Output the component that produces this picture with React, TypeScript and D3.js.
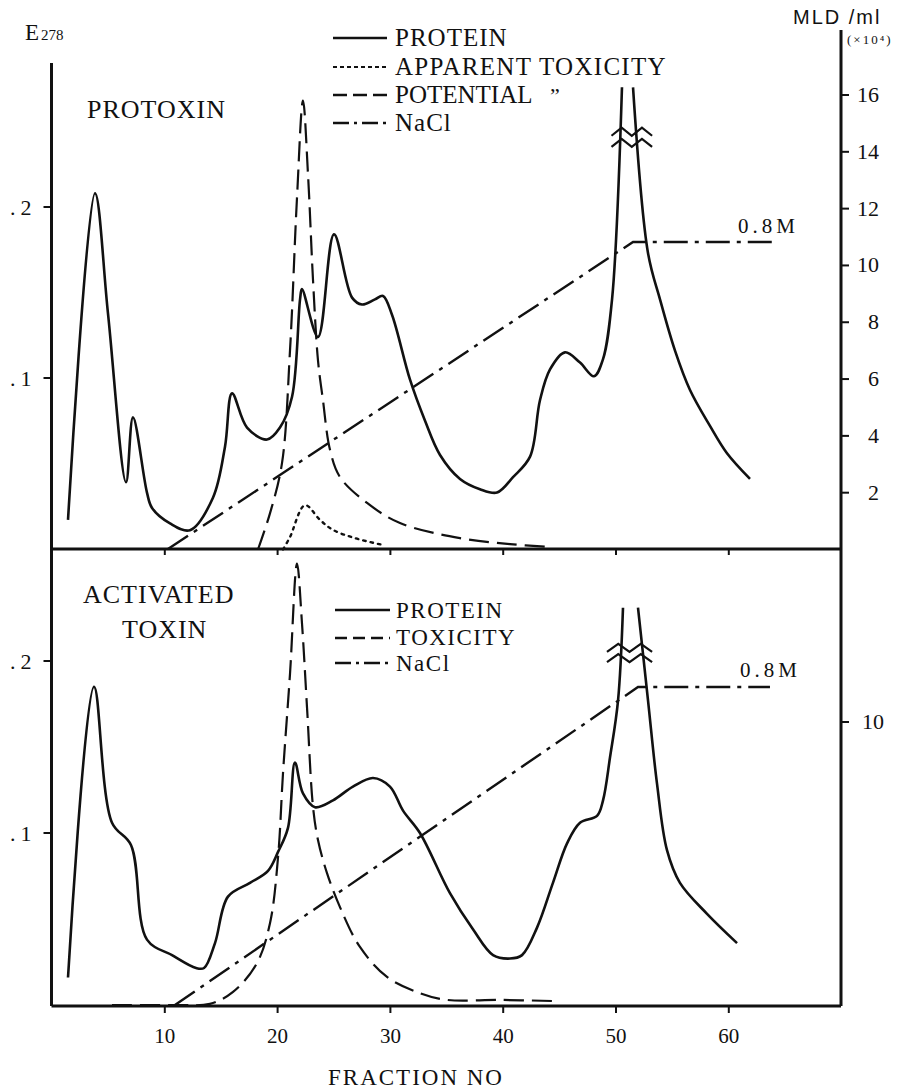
import React from 'react';
import * as d3 from 'd3';

const W = 917;
const H = 1091;

// ---------- tick values / labels ----------
const xTickValues = [10, 20, 30, 40, 50, 60];
const e278TickValues = [0.1, 0.2];
const e278TickLabels = ['.1', '.2'];
const mldTickValuesTop = [2, 4, 6, 8, 10, 12, 14, 16];
const mldTickValuesBottom = [10];

// ---------- PROTOXIN panel (fraction, value) ----------
const protoxinProtein: [number, number | null][] = [
  [1.42, 0.017], [3.81, 0.208], [4.96, 0.138], [6.56, 0.039], [7.18, 0.077],
  [8.42, 0.033], [8.87, 0.024], [10.46, 0.015], [12.23, 0.011], [14.27, 0.03],
  [15.34, 0.06], [15.96, 0.091], [17.29, 0.071], [19.06, 0.064], [20.21, 0.071],
  [21.28, 0.089], [21.99, 0.146], [22.16, 0.152], [23.58, 0.124], [25.0, 0.184],
  [26.6, 0.147], [27.48, 0.143], [28.63, 0.146], [29.34, 0.148], [30.14, 0.137],
  [31.74, 0.099], [33.07, 0.075], [34.4, 0.055], [36.17, 0.041], [37.94, 0.035],
  [39.45, 0.033], [40.87, 0.042], [42.38, 0.054], [43.26, 0.087], [44.15, 0.105],
  [45.48, 0.115], [46.81, 0.109], [48.05, 0.101], [48.85, 0.111], [49.65, 0.146],
  [50.53, 0.27], [51.0, null], [51.51, 0.27], [52.84, 0.173], [53.9, 0.146],
  [55.23, 0.116], [56.56, 0.093], [58.33, 0.072], [59.84, 0.056], [61.88, 0.041],
];
const protoxinApparentTox: [number, number][] = [
  [20.48, 0], [21.1, 0.44], [22.43, 1.56], [23.76, 1.04], [24.91, 0.69],
  [26.86, 0.4], [29.34, 0.16],
];
const protoxinPotentialTox: [number, number][] = [
  [18.26, 0], [19.33, 1.28], [20.39, 3.04], [21.1, 7.01], [21.72, 12.39],
  [22.25, 15.8], [22.7, 13.17], [23.14, 9.48], [23.58, 6.66], [24.02, 5.26],
  [24.65, 3.5], [25.53, 2.55], [27.93, 1.64], [30.85, 0.93], [36.17, 0.4],
  [40.6, 0.19], [44.15, 0.09],
];
const protoxinNaCl: [number, number][] = [[10.28, 0], [51.51, 0.8], [63.9, 0.8]];

// ---------- ACTIVATED TOXIN panel ----------
const activatedProtein: [number, number | null][] = [
  [1.42, 0.016], [3.72, 0.185], [5.32, 0.106], [7.0, 0.093], [8.42, 0.038],
  [10.64, 0.029], [12.77, 0.0215], [13.48, 0.0215], [14.45, 0.036], [15.6, 0.063],
  [17.55, 0.071], [19.15, 0.078], [20.04, 0.089], [20.92, 0.103], [21.54, 0.141],
  [22.25, 0.123], [23.32, 0.115], [24.91, 0.119], [26.68, 0.127], [28.46, 0.132],
  [29.96, 0.127], [31.12, 0.113], [32.62, 0.1], [35.28, 0.065], [37.32, 0.044],
  [39.1, 0.029], [40.6, 0.027], [41.67, 0.029], [43.0, 0.045], [44.41, 0.071],
  [45.66, 0.094], [46.81, 0.106], [48.32, 0.11], [48.85, 0.119], [49.47, 0.144],
  [50.18, 0.177], [50.62, 0.231], [51.3, null], [51.95, 0.231], [52.84, 0.177],
  [53.63, 0.129], [54.52, 0.09], [55.67, 0.071], [58.07, 0.053], [60.73, 0.036],
];
const activatedTox: [number, number][] = [
  [5.32, 0], [10.9, 0], [14.0, 0.04], [16.05, 0.46], [18.17, 1.48], [19.33, 2.9],
  [20.04, 5.23], [20.48, 8.2], [21.1, 11.7], [21.72, 15.6], [22.16, 13.5],
  [22.61, 10.5], [23.14, 7.0], [23.58, 5.83], [24.38, 4.66], [25.53, 3.46],
  [27.3, 2.05], [29.7, 0.99], [32.62, 0.42], [35.02, 0.18], [39.7, 0.18], [44.41, 0.14],
];
const activatedNaCl: [number, number][] = [[10.9, 0], [51.95, 0.8], [63.65, 0.8]];

// ---------- styles ----------
const SERIF = "'Liberation Serif', 'Times New Roman', serif";
const INK = '#111';
const DASH = '20,8';
const DOT = '2.5,5';
const DASHDOT = '24,7,4,7';

export default function App() {
  const x = d3.scaleLinear().domain([0, 70]).range([52, 841.6]);

  const yTop = d3.scaleLinear().domain([0, 0.2]).range([549, 207]);
  const mldTop = d3.scaleLinear().domain([0, 16]).range([549.5, 95]);
  const naclTop = d3.scaleLinear().domain([0, 0.8]).range([549, 242]);

  const yBot = d3.scaleLinear().domain([0, 0.2]).range([1005, 661]);
  const mldBot = d3.scaleLinear().domain([0, 10]).range([1005, 722]);
  const naclBot = d3.scaleLinear().domain([0, 0.8]).range([1005, 687]);

  const mk = (ys: d3.ScaleLinear<number, number>, smooth = true) =>
    d3
      .line<[number, number | null]>()
      .defined((d) => d[1] !== null)
      .x((d) => x(d[0]))
      .y((d) => ys(d[1] as number))
      .curve(smooth ? d3.curveCatmullRom.alpha(0.5) : d3.curveLinear);

  const leftX = 51.5;
  const rightX = 841;
  const topAxisY = 549;
  const botAxisY = 1006;

  const zig = (f0: number, f1: number, y: number) => {
    const x0 = x(f0);
    const x1 = x(f1);
    const n = 4;
    const pts: [number, number][] = [];
    for (let i = 0; i <= n; i++) {
      pts.push([x0 + ((x1 - x0) * i) / n, y + (i % 2 === 0 ? 4 : -4)]);
    }
    return d3.line()(pts) as string;
  };

  const legendLine = (x0: number, x1: number, y: number, dash?: string, w = 2.2) => (
    <line x1={x0} x2={x1} y1={y} y2={y} stroke={INK} strokeWidth={w} strokeDasharray={dash} />
  );

  const textStyle = { fontFamily: SERIF, fill: INK } as React.CSSProperties;

  return (
    <svg
      width={W}
      height={H}
      style={{ position: 'absolute', left: 0, top: 0, background: '#fff' }}
    >
      <rect x={0} y={0} width={W} height={H} fill="#fff" />

      {/* axes frame */}
      <line x1={leftX} x2={leftX} y1={63} y2={botAxisY} stroke={INK} strokeWidth={3} />
      <line x1={rightX} x2={rightX} y1={30} y2={botAxisY} stroke={INK} strokeWidth={3} />
      <line x1={leftX} x2={rightX} y1={topAxisY} y2={topAxisY} stroke={INK} strokeWidth={3} />
      <line x1={leftX} x2={rightX} y1={botAxisY} y2={botAxisY} stroke={INK} strokeWidth={3} />

      {/* x ticks */}
      {xTickValues.map((t) => (
        <g key={'xt' + t}>
          <line x1={x(t)} x2={x(t)} y1={topAxisY} y2={topAxisY + 6} stroke={INK} strokeWidth={2} />
          <line x1={x(t)} x2={x(t)} y1={botAxisY} y2={botAxisY + 7} stroke={INK} strokeWidth={2} />
          <text x={x(t)} y={1043} textAnchor="middle" fontSize={21} style={textStyle}>
            {t}
          </text>
        </g>
      ))}

      {/* left ticks */}
      {e278TickValues.map((t, i) => (
        <g key={'lt' + t}>
          <line x1={leftX - 8} x2={leftX} y1={yTop(t)} y2={yTop(t)} stroke={INK} strokeWidth={2} />
          <line x1={leftX - 8} x2={leftX} y1={yBot(t)} y2={yBot(t)} stroke={INK} strokeWidth={2} />
          <text x={10} y={yTop(t) + 8} fontSize={22} letterSpacing={5} style={textStyle}>
            {e278TickLabels[i]}
          </text>
          <text x={10} y={yBot(t) + 8} fontSize={22} letterSpacing={5} style={textStyle}>
            {e278TickLabels[i]}
          </text>
        </g>
      ))}

      {/* right ticks */}
      {mldTickValuesTop.map((t) => (
        <g key={'rt' + t}>
          <line x1={rightX} x2={rightX + 8} y1={mldTop(t)} y2={mldTop(t)} stroke={INK} strokeWidth={2} />
          <text x={879} y={mldTop(t) + 7} textAnchor="end" fontSize={22} style={textStyle}>
            {t}
          </text>
        </g>
      ))}
      {mldTickValuesBottom.map((t) => (
        <g key={'rb' + t}>
          <line x1={rightX} x2={rightX + 8} y1={mldBot(t)} y2={mldBot(t)} stroke={INK} strokeWidth={2} />
          <text x={884} y={mldBot(t) + 7} textAnchor="end" fontSize={22} style={textStyle}>
            {t}
          </text>
        </g>
      ))}

      {/* axis titles */}
      <text x={25} y={40} style={textStyle}>
        <tspan fontSize={23}>E</tspan>
        <tspan fontSize={15} dx={2}>278</tspan>
      </text>
      <text x={793} y={24} fontSize={20} letterSpacing={2}
        style={{ fontFamily: "'Liberation Sans', Arial, sans-serif", fill: INK }}>
        MLD /ml
      </text>
      <text x={847} y={44} fontSize={13} letterSpacing={2} style={textStyle}>
        (×10⁴)
      </text>
      <text x={416} y={1085} textAnchor="middle" fontSize={23} letterSpacing={2} style={textStyle}>
        FRACTION NO
      </text>

      {/* panel titles */}
      <text x={87} y={118} fontSize={26} letterSpacing={1} style={textStyle}>PROTOXIN</text>
      <text x={83} y={603} fontSize={26} letterSpacing={1} style={textStyle}>ACTIVATED</text>
      <text x={122} y={638} fontSize={26} letterSpacing={1} style={textStyle}>TOXIN</text>

      {/* top legend */}
      {legendLine(333, 387, 38, undefined, 2.5)}
      <text x={395} y={46} fontSize={25} letterSpacing={1} style={textStyle}>PROTEIN</text>
      {legendLine(333, 387, 67, '4,3', 1.8)}
      <text x={395} y={75} fontSize={25} letterSpacing={1.3} style={textStyle}>APPARENT TOXICITY</text>
      {legendLine(333, 387, 95, '14,6', 2.5)}
      <text x={395} y={103} fontSize={25} letterSpacing={0} style={textStyle}>POTENTIAL</text>
      <text x={550} y={103} fontSize={22} style={textStyle}>”</text>
      {legendLine(333, 387, 123, '16,5,3,5', 2.5)}
      <text x={395} y={131} fontSize={25} letterSpacing={1} style={textStyle}>NaCl</text>

      {/* bottom legend */}
      {legendLine(335, 390, 610, undefined, 2.5)}
      <text x={396} y={618} fontSize={23} letterSpacing={1.5} style={textStyle}>PROTEIN</text>
      {legendLine(335, 390, 638, '12,6', 2.5)}
      <text x={396} y={645} fontSize={23} letterSpacing={1.5} style={textStyle}>TOXICITY</text>
      {legendLine(335, 390, 663, '16,5,3,5', 2.5)}
      <text x={396} y={671} fontSize={23} letterSpacing={1.5} style={textStyle}>NaCl</text>

      {/* 0.8M labels */}
      <text x={738} y={233} fontSize={21} letterSpacing={4} style={textStyle}>0.8M</text>
      <text x={740} y={677} fontSize={21} letterSpacing={4} style={textStyle}>0.8M</text>

      {/* PROTOXIN series */}
      <path d={mk(naclTop, false)(protoxinNaCl) as string} fill="none" stroke={INK} strokeWidth={2.4} strokeDasharray={DASHDOT} />
      <path d={mk(mldTop)(protoxinPotentialTox) as string} fill="none" stroke={INK} strokeWidth={2.2} strokeDasharray={DASH} />
      <path d={mk(mldTop)(protoxinApparentTox) as string} fill="none" stroke={INK} strokeWidth={2.4} strokeDasharray={DOT} strokeLinecap="round" />
      <path d={mk(yTop)(protoxinProtein) as string} fill="none" stroke={INK} strokeWidth={2.6} strokeLinejoin="round" />
      <path d={zig(49.6, 53.2, yTop(0.244))} fill="none" stroke={INK} strokeWidth={2.2} />
      <path d={zig(49.6, 53.2, yTop(0.2375))} fill="none" stroke={INK} strokeWidth={2.2} />

      {/* ACTIVATED series */}
      <path d={mk(naclBot, false)(activatedNaCl) as string} fill="none" stroke={INK} strokeWidth={2.4} strokeDasharray={DASHDOT} />
      <path d={mk(mldBot)(activatedTox) as string} fill="none" stroke={INK} strokeWidth={2.2} strokeDasharray={DASH} />
      <path d={mk(yBot)(activatedProtein) as string} fill="none" stroke={INK} strokeWidth={2.6} strokeLinejoin="round" />
      <path d={zig(49.2, 53.2, yBot(0.2076))} fill="none" stroke={INK} strokeWidth={2.2} />
      <path d={zig(49.2, 53.2, yBot(0.2017))} fill="none" stroke={INK} strokeWidth={2.2} />
    </svg>
  );
}
